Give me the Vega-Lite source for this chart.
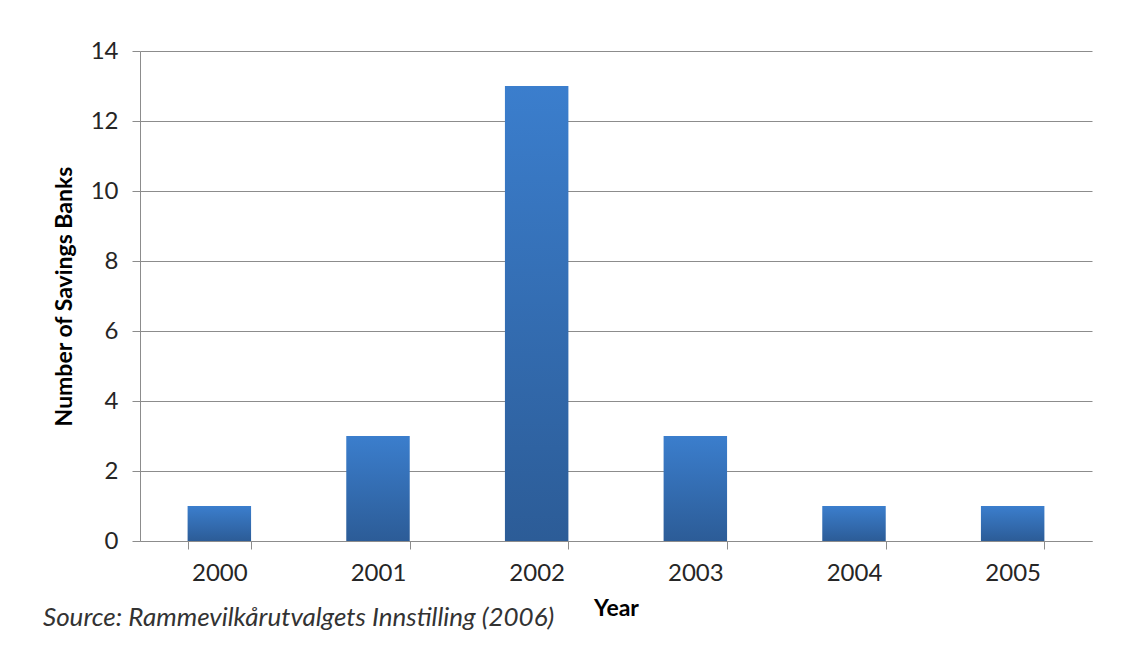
{
  "$schema": "https://vega.github.io/schema/vega-lite/v6.json",
  "width": 952,
  "height": 490,
  "autosize": {"type": "none"},
  "padding": {"left": 140, "top": 51, "right": 29, "bottom": 116},
  "background": "white",
  "data": {
    "values": [
      {"Year": "2000", "Banks": 1},
      {"Year": "2001", "Banks": 3},
      {"Year": "2002", "Banks": 13},
      {"Year": "2003", "Banks": 3},
      {"Year": "2004", "Banks": 1},
      {"Year": "2005", "Banks": 1}
    ]
  },
  "title": {
    "text": "Source: Rammevilkårutvalgets Innstilling (2006)",
    "orient": "bottom",
    "anchor": "start",
    "frame": "group",
    "dx": -97,
    "offset": -15,
    "font": "Lato",
    "fontSize": 26,
    "fontStyle": "italic",
    "fontWeight": "normal",
    "color": "#333333"
  },
  "mark": {
    "type": "bar",
    "color": {
      "gradient": "linear",
      "x1": 0, "y1": 0, "x2": 0, "y2": 1,
      "stops": [
        {"offset": 0, "color": "#3b7ecd"},
        {"offset": 1, "color": "#2c5c97"}
      ]
    }
  },
  "encoding": {
    "x": {
      "field": "Year",
      "type": "ordinal",
      "scale": {"paddingInner": 0.6, "paddingOuter": 0.3},
      "axis": {
        "title": "Year",
        "labelAngle": 0,
        "tickBand": "extent",
        "tickSize": 8,
        "labelPadding": 12,
        "titlePadding": 12
      }
    },
    "y": {
      "field": "Banks",
      "type": "quantitative",
      "scale": {"domain": [0, 14]},
      "axis": {
        "title": "Number of Savings Banks",
        "values": [0, 2, 4, 6, 8, 10, 12, 14],
        "tickSize": 8,
        "labelPadding": 14,
        "titlePadding": 14,
        "grid": true
      }
    }
  },
  "config": {
    "view": {"stroke": null},
    "axis": {
      "domainColor": "#8c8c8c",
      "tickColor": "#8c8c8c",
      "gridColor": "#8c8c8c",
      "gridOpacity": 1,
      "labelFont": "Lato",
      "labelFontSize": 24,
      "labelColor": "#262626",
      "titleFont": "Lato",
      "titleFontSize": 23,
      "titleFontWeight": "bold",
      "titleColor": "#000000"
    },
    "axisX": {"grid": false}
  }
}
